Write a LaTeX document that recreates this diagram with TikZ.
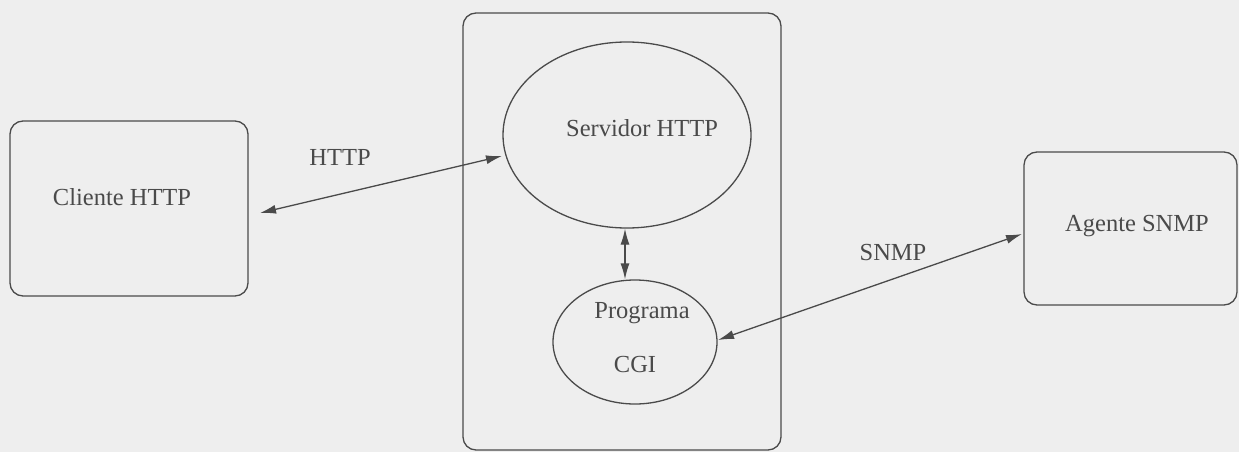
\documentclass[tikz,border=0pt]{standalone}
\usepackage{fontspec}
\setmainfont{Liberation Serif}
\usetikzlibrary{shapes.geometric,arrows.meta}
\definecolor{ink}{HTML}{4A4A4A}
\definecolor{paper}{HTML}{EEEEEE}
\tikzset{
  box/.style={draw=ink, line width=1.3pt, rounded corners=13pt, inner sep=0pt},
  oval/.style={draw=ink, line width=1.3pt, ellipse, inner sep=0pt},
  txt/.style={text=ink, font=\fontsize{24.5}{29}\selectfont, inner sep=0pt},
  conn/.style={draw=ink, line width=1.3pt, {Latex[length=16pt,width=9pt]}-{Latex[length=16pt,width=9pt]}}
}
\begin{document}
\begin{tikzpicture}[x=1pt,y=-1pt]
\fill[paper] (0,0) rectangle (1239,452);
\useasboundingbox (0,0) rectangle (1239,452);
% boxes
\node[box, minimum width=238pt, minimum height=175pt] (cli) at (129,208.5) {};
\node[box, minimum width=318pt, minimum height=437pt] (srvbox) at (622,231.5) {};
\node[box, minimum width=213pt, minimum height=153pt] (agt) at (1130.5,228.5) {};
% ellipses
\node[oval, minimum width=248pt, minimum height=186pt] (srv) at (627,135) {};
\node[oval, minimum width=164pt, minimum height=124pt] (cgi) at (635,342) {};
% texts
\node[txt] (tcli) at (122,197) {Cliente HTTP};
\node[txt] (tsrv) at (642,128) {Servidor HTTP};
\node[txt] (tprog) at (642,313) {Programa};
\node[txt] (tcgi) at (635,365) {CGI};
\node[txt] (tagt) at (1137,226) {Agente SNMP};
\node[txt] (lhttp) at (340,157) {HTTP};
\node[txt] (lsnmp) at (893,253) {SNMP};
% connectors
\coordinate (a1) at (260,213);
\coordinate (a2) at (502,156);
\draw[conn] (a1) -- (a2);
\draw[conn] (srv.south -| 625,0) -- (cgi.north -| 625,0);
\coordinate (b1) at (718,340);
\coordinate (b2) at (1022,234);
\draw[conn] (b1) -- (b2);
\end{tikzpicture}
\end{document}
